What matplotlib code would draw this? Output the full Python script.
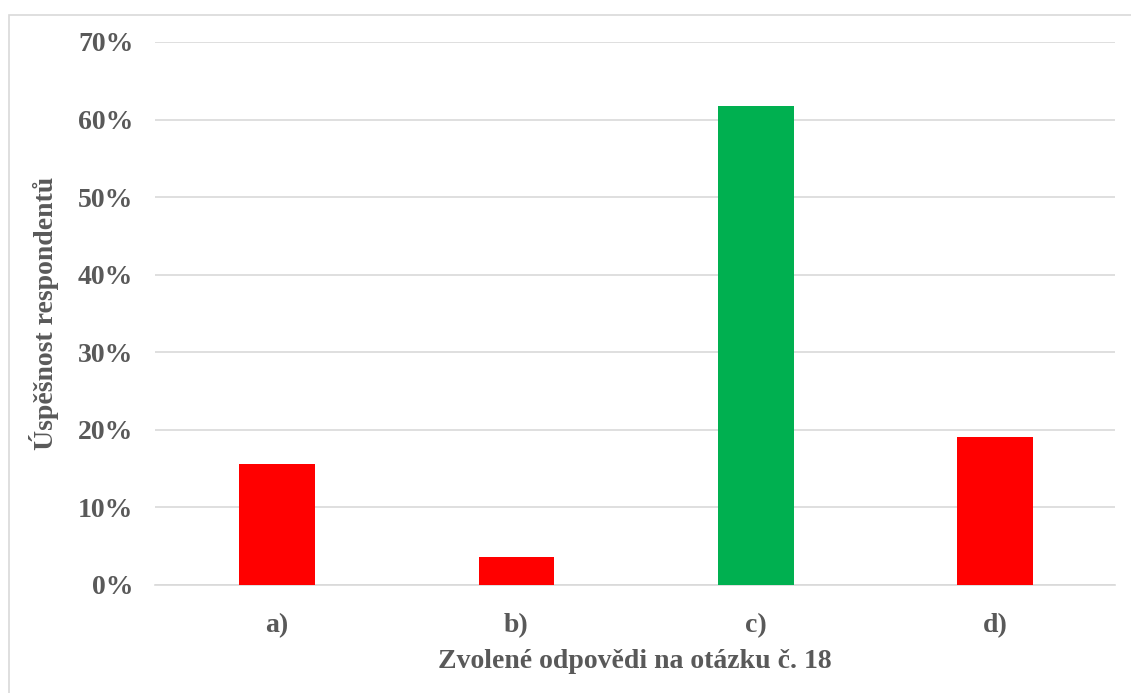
import matplotlib
matplotlib.use("Agg")
import matplotlib.pyplot as plt
from matplotlib.ticker import PercentFormatter, MultipleLocator
from matplotlib.patches import Rectangle

categories = ["a)", "b)", "c)", "d)"]
values = [0.156, 0.036, 0.617, 0.191]
colors = ["#FF0000", "#FF0000", "#00B050", "#FF0000"]
xlabel = "Zvolené odpovědi na otázku č. 18"
ylabel = "Úspěšnost respondentů"

text_color = "#595959"
plt.rcParams["font.family"] = ["Liberation Serif", "DejaVu Serif"]
plt.rcParams["font.weight"] = "bold"

W, H = 1131, 693
fig = plt.figure(figsize=(W / 100, H / 100), dpi=100)
fig.patches.append(Rectangle((9 / W, -0.1), 1.2, 1.1 - 15 / H, transform=fig.transFigure,
                             fill=False, edgecolor="#D9D9D9", linewidth=1.2))
ax = fig.add_axes([155 / W, 1 - 585 / H, (1115 - 155) / W, (585 - 42) / H])

x = range(len(categories))
ax.bar(x, values, width=0.317, color=colors, zorder=3)
ax.set_xlim(-0.51, len(categories) - 0.5)
ax.set_ylim(0, 0.7)
ax.yaxis.set_major_locator(MultipleLocator(0.1))
ax.yaxis.set_major_formatter(PercentFormatter(1.0, decimals=0))
ax.set_xticks(list(x))
ax.set_xticklabels(categories)
ax.grid(axis="y", color="#D9D9D9", linewidth=1.2, zorder=0)
for s in ["top", "right", "left"]:
    ax.spines[s].set_visible(False)
ax.spines["bottom"].set_color("#D9D9D9")
ax.spines["bottom"].set_linewidth(1.2)
ax.tick_params(axis="both", length=0, labelsize=20, labelcolor=text_color)
ax.tick_params(axis="y", pad=15.5)
ax.tick_params(axis="x", pad=20)
for lab in ax.get_xticklabels() + ax.get_yticklabels():
    lab.set_fontweight("bold")
ax.set_xlabel(xlabel, fontsize=20, color=text_color, fontweight="bold", labelpad=8)
ax.set_ylabel(ylabel, fontsize=20, color=text_color, fontweight="bold", labelpad=14)

fig.savefig("out.png", dpi=100)
